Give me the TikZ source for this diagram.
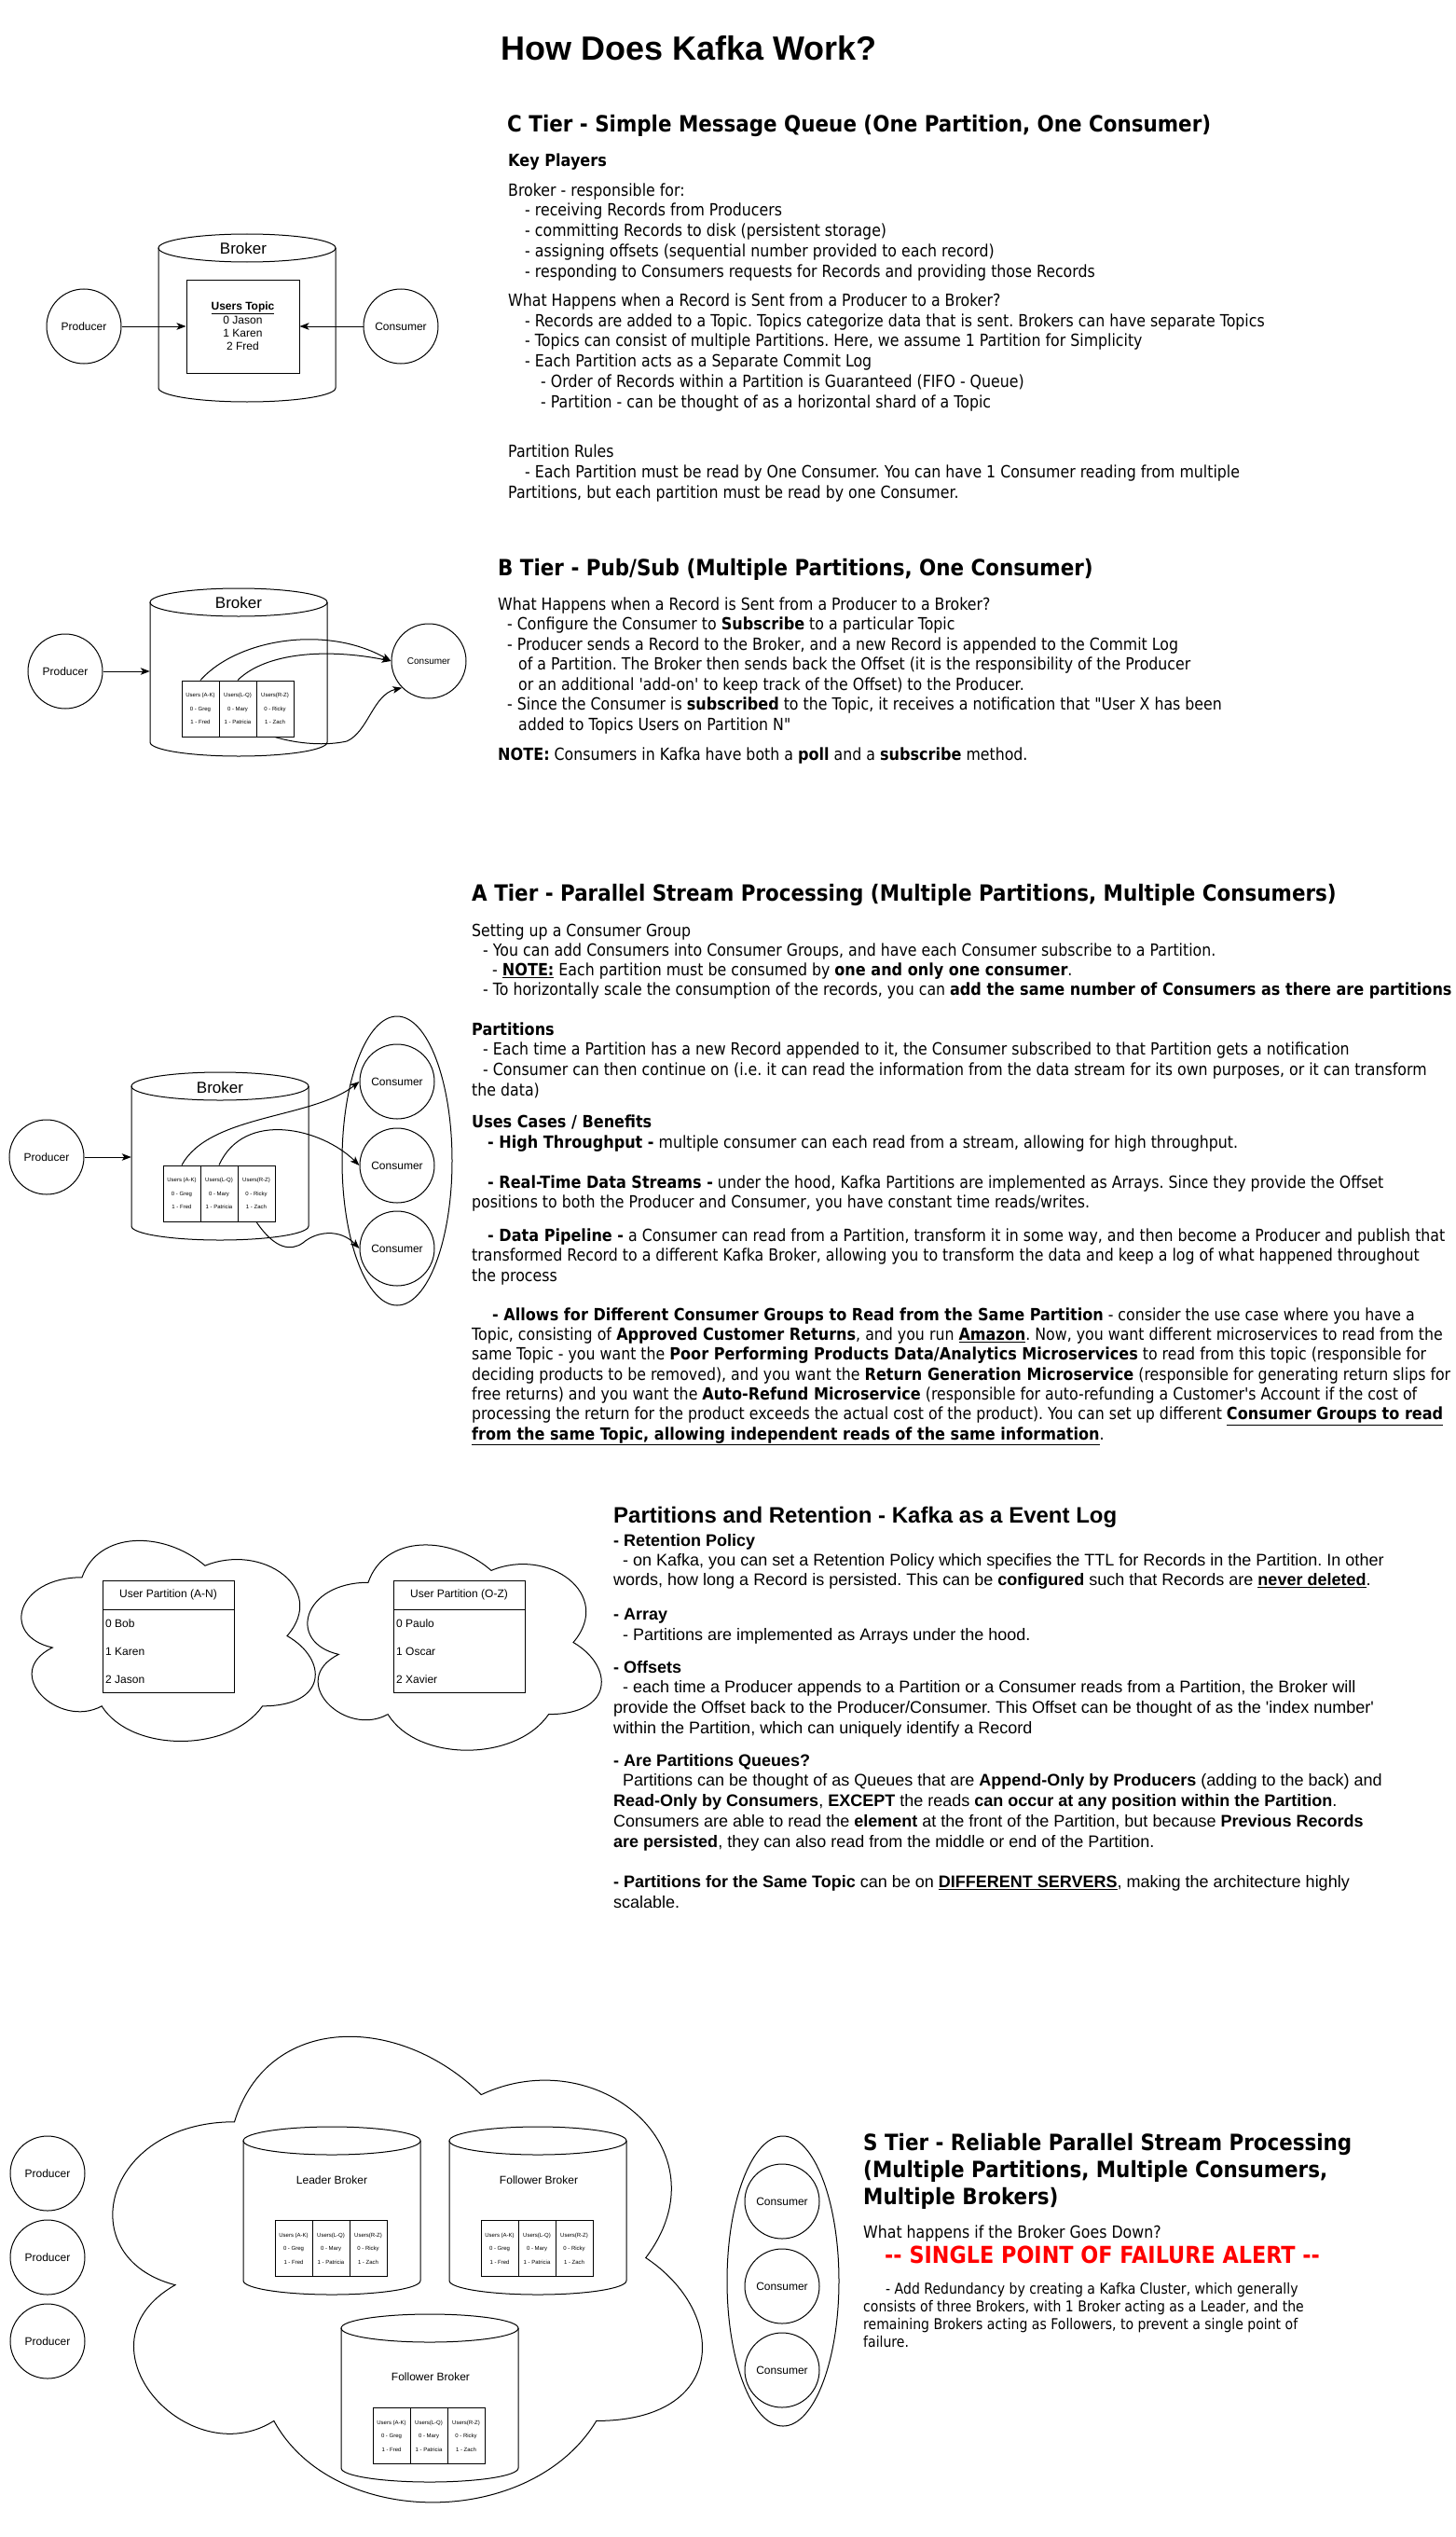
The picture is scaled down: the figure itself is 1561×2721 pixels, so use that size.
\documentclass[tikz,border=0pt]{standalone}
\usepackage{fontspec}
\setmainfont[Ligatures=TeXOff]{Liberation Sans}
\newfontfamily\tah[Ligatures=TeXOff,FakeStretch=0.877,BoldFeatures={FakeStretch=0.893}]{DejaVu Sans}
\usetikzlibrary{arrows.meta,shapes.geometric}
\frenchspacing

\newcommand\kcyl[3]{%
  \node[cylbody] (#1) at (#2,#3) {};
  \draw[ln] (#2,{#3-75}) ellipse [x radius=95pt, y radius=15pt];
  \draw[ln] ({#2-95},{#3-75}) -- ({#2-95},{#3+75}) arc[start angle=180,end angle=360,x radius=95pt,y radius=15pt] -- ({#2+95},{#3-75});
}
\newcommand\kparts[3]{%
  \node[pbox] (#1a) at ({#2+20},#3) {Users (A-K)\\0 - Greg\\1 - Fred};
  \node[pbox] (#1b) at ({#2+60},#3) {Users(L-Q)\\0 - Mary\\1 - Patricia};
  \node[pbox] (#1c) at ({#2+100},#3) {Users(R-Z)\\0 - Ricky\\1 - Zach};
}
\newcommand\kcloud[4]{%
 \draw[ln] ({#1+0.25*#3},{#2+0.25*#4}) .. controls ({#1+0.05*#3},{#2+0.25*#4}) and ({#1},{#2+0.5*#4}) .. ({#1+0.16*#3},{#2+0.55*#4})
 .. controls ({#1},{#2+0.66*#4}) and ({#1+0.18*#3},{#2+0.9*#4}) .. ({#1+0.31*#3},{#2+0.8*#4})
 .. controls ({#1+0.4*#3},{#2+#4}) and ({#1+0.7*#3},{#2+#4}) .. ({#1+0.8*#3},{#2+0.8*#4})
 .. controls ({#1+#3},{#2+0.8*#4}) and ({#1+#3},{#2+0.6*#4}) .. ({#1+0.875*#3},{#2+0.5*#4})
 .. controls ({#1+#3},{#2+0.3*#4}) and ({#1+0.8*#3},{#2+0.1*#4}) .. ({#1+0.625*#3},{#2+0.2*#4})
 .. controls ({#1+0.5*#3},{#2+0.05*#4}) and ({#1+0.3*#3},{#2+0.05*#4}) .. ({#1+0.25*#3},{#2+0.25*#4}) -- cycle;
}

\begin{document}
\frenchspacing
\begin{tikzpicture}[x=1pt,y=-1pt,
  ln/.style={line width=1pt, draw=black},
  arr/.style={ln, -{Stealth[length=10pt,width=7.5pt,inset=2.5pt]}},
  circ/.style={draw, line width=1pt, circle, minimum size=80pt, inner sep=0pt, font=\fontsize{12}{14}\selectfont},
  pbox/.style={draw, line width=1pt, minimum width=40pt, minimum height=60pt, inner sep=0pt, align=center, font=\fontsize{6}{14.5}\selectfont},
  cylbody/.style={minimum width=190pt, minimum height=180pt, inner sep=0pt},
  tb/.style={anchor=north west, inner sep=0pt, align=left},
  one/.style={anchor=base west, inner sep=0pt},
  lbl/.style={inner sep=0pt, font=\fontsize{12}{14}\selectfont},
  brk/.style={inner sep=0pt, font=\fontsize{17}{20}\selectfont},
  tbl/.style={draw, line width=1pt, minimum width=141pt, inner sep=0pt, font=\fontsize{12}{14}\selectfont},
  row/.style={anchor=west, inner sep=0pt, font=\fontsize{12}{14}\selectfont},
]
\fill[white] (0,0) rectangle (1561,2721);
\useasboundingbox (0,0) rectangle (1561,2721);

% ================= Title =================
\node[one, font=\bfseries\fontsize{36}{40}\selectfont] (title) at (537,65) {How Does Kafka Work?};

% ================= C tier =================
\node[one, font=\tah\bfseries\fontsize{24}{29}\selectfont] (ch) at (544,141.5) {C Tier - Simple Message Queue (One Partition, One Consumer)};
\node[one, font=\tah\bfseries\fontsize{18}{21.5}\selectfont] (ckp) at (545,179) {Key Players};
\node[tb, font=\tah\fontsize{18}{21.75}\selectfont] (c1) at (545,195) {\rule{0pt}{15pt}Broker - responsible for:\\
\hspace*{18pt}- receiving Records from Producers\\
\hspace*{18pt}- committing Records to disk (persistent storage)\\
\hspace*{18pt}- assigning offsets (sequential number provided to each record)\\
\hspace*{18pt}- responding to Consumers requests for Records and providing those Records};
\node[tb, font=\tah\fontsize{18}{21.8}\selectfont] (c2) at (545,313) {\rule{0pt}{15pt}What Happens when a Record is Sent from a Producer to a Broker?\\
\hspace*{18pt}- Records are added to a Topic. Topics categorize data that is sent. Brokers can have separate Topics\\
\hspace*{18pt}- Topics can consist of multiple Partitions. Here, we assume 1 Partition for Simplicity\\
\hspace*{18pt}- Each Partition acts as a Separate Commit Log\\
\hspace*{35pt}- Order of Records within a Partition is Guaranteed (FIFO - Queue)\\
\hspace*{35pt}- Partition - can be thought of as a horizontal shard of a Topic};
\node[tb, font=\tah\fontsize{18}{22}\selectfont] (c3) at (545,475) {\rule{0pt}{15pt}Partition Rules\\
\hspace*{18pt}- Each Partition must be read by One Consumer. You can have 1 Consumer reading from multiple\\
Partitions, but each partition must be read by one Consumer.};

\kcyl{cylC}{265}{341}
\node[brk] (brkC) at (261,266) {Broker};
\node[draw, line width=1pt, minimum width=121pt, minimum height=100pt, inner sep=0pt, align=center, font=\fontsize{12}{14.4}\selectfont] (topC) at (260.5,350) {\textbf{\underline{Users Topic}}\\0 Jason\\1 Karen\\2 Fred};
\node[circ] (prodC) at (90,350) {Producer};
\node[circ] (consC) at (430,350) {Consumer};
\draw[arr] (prodC) -- (topC);
\draw[arr] (consC) -- (topC);

% ================= B tier =================
\node[one, font=\tah\bfseries\fontsize{24}{29}\selectfont] (bh) at (534,617.5) {B Tier - Pub/Sub (Multiple Partitions, One Consumer)};
\node[tb, font=\tah\fontsize{18}{21.5}\selectfont] (b1) at (534,639) {\rule{0pt}{15pt}What Happens when a Record is Sent from a Producer to a Broker?\\
\hspace*{10pt}- Configure the Consumer to \textbf{Subscribe} to a particular Topic\\
\hspace*{10pt}- Producer sends a Record to the Broker, and a new Record is appended to the Commit Log\\
\hspace*{22pt}of a Partition. The Broker then sends back the Offset (it is the responsibility of the Producer\\
\hspace*{22pt}or an additional 'add-on' to keep track of the Offset) to the Producer.\\
\hspace*{10pt}- Since the Consumer is \textbf{subscribed} to the Topic, it receives a notification that "User X has been\\
\hspace*{22pt}added to Topics Users on Partition N"};
\node[one, font=\tah\fontsize{18}{21.5}\selectfont] (b2) at (534,815) {\textbf{NOTE:} Consumers in Kafka have both a \textbf{poll} and a \textbf{subscribe} method.};

\kcyl{cylB}{256}{721}
\node[brk] (brkB) at (256,646) {Broker};
\kparts{pB}{195}{760}
\node[circ] (prodB) at (70,720) {Producer};
\node[circ, font=\fontsize{10}{12}\selectfont] (consB) at (460,709) {Consumer};
\draw[arr] (prodB) -- (cylB.west |- prodB);
\draw[arr] (pBa.north) .. controls (255,685) and (350,670) .. (consB.west);
\draw[arr] (pBb.north) .. controls (285,700) and (350,695) .. (consB.west);
\draw[arr] (pBc.south) .. controls (320,798) and (350,800) .. (372,795) .. controls (395,785) and (400,745) .. (consB.south west);

% ================= A tier =================
\node[one, font=\tah\bfseries\fontsize{24}{29}\selectfont] (ah) at (506,966.5) {A Tier - Parallel Stream Processing (Multiple Partitions, Multiple Consumers)};
\node[tb, font=\tah\fontsize{18}{21}\selectfont] (a1) at (506,989) {\rule{0pt}{15pt}Setting up a Consumer Group\\
\hspace*{12pt}- You can add Consumers into Consumer Groups, and have each Consumer subscribe to a Partition.\\
\hspace*{22pt}- \textbf{\underline{NOTE:}} Each partition must be consumed by \textbf{one and only one consumer}.\\
\hspace*{12pt}- To horizontally scale the consumption of the records, you can \textbf{add the same number of Consumers as there are partitions}};
\node[tb, font=\tah\fontsize{18}{21.7}\selectfont] (a2) at (506,1095) {\rule{0pt}{15pt}\textbf{Partitions}\\
\hspace*{12pt}- Each time a Partition has a new Record appended to it, the Consumer subscribed to that Partition gets a notification\\
\hspace*{12pt}- Consumer can then continue on (i.e. it can read the information from the data stream for its own purposes, or it can transform\\
the data)};
\node[tb, font=\tah\fontsize{18}{22}\selectfont] (a3) at (506,1194) {\rule{0pt}{15pt}\textbf{Uses Cases / Benefits}\\
\hspace*{17pt}\textbf{- High Throughput -} multiple consumer can each read from a stream, allowing for high throughput.};
\node[tb, font=\tah\fontsize{18}{21}\selectfont] (a4) at (506,1259) {\rule{0pt}{15pt}\hspace*{17pt}\textbf{- Real-Time Data Streams -} under the hood, Kafka Partitions are implemented as Arrays. Since they provide the Offset\\
positions to both the Producer and Consumer, you have constant time reads/writes.};
\node[tb, font=\tah\fontsize{18}{21.5}\selectfont] (a5) at (506,1316) {\rule{0pt}{15pt}\hspace*{17pt}\textbf{- Data Pipeline -} a Consumer can read from a Partition, transform it in some way, and then become a Producer and publish that\\
transformed Record to a different Kafka Broker, allowing you to transform the data and keep a log of what happened throughout\\
the process};
\node[tb, font=\tah\fontsize{18}{21.33}\selectfont] (a6) at (506,1401) {\rule{0pt}{15pt}\hspace*{22pt}\textbf{- Allows for Different Consumer Groups to Read from the Same Partition} - consider the use case where you have a\\
Topic, consisting of \textbf{Approved Customer Returns}, and you run \textbf{\underline{Amazon}}. Now, you want different microservices to read from the\\
same Topic - you want the \textbf{Poor Performing Products Data/Analytics Microservices} to read from this topic (responsible for\\
deciding products to be removed), and you want the \textbf{Return Generation Microservice} (responsible for generating return slips for\\
free returns) and you want the \textbf{Auto-Refund Microservice} (responsible for auto-refunding a Customer's Account if the cost of\\
processing the return for the product exceeds the actual cost of the product). You can set up different \textbf{\underline{Consumer Groups to read}}\\
\textbf{\underline{from the same Topic, allowing independent reads of the same information}}.};

\kcyl{cylA}{236}{1240}
\node[brk] (brkA) at (236,1166) {Broker};
\kparts{pA}{175}{1280}
\node[circ] (prodA) at (50,1241) {Producer};
\node[draw, ellipse, line width=1pt, minimum width=118pt, minimum height=310pt, inner sep=0pt] (grpA) at (426,1245) {};
\node[circ] (cA1) at (426,1160) {Consumer};
\node[circ] (cA2) at (426,1250) {Consumer};
\node[circ] (cA3) at (426,1339) {Consumer};
\draw[arr] (prodA) -- (cylA.west |- prodA);
\draw[arr] (pAa.north) .. controls (225,1195) and (335,1200) .. (cA1.west);
\draw[arr] (pAb.north) .. controls (262,1190) and (345,1210) .. (cA2.west);
\draw[arr] (pAc.south) .. controls (295,1340) and (312,1342) .. (325,1333) .. controls (340,1320) and (365,1318) .. (cA3.west);

% ================= Partitions and Retention =================
\node[one, font=\bfseries\fontsize{24}{28}\selectfont] (ph) at (658,1633.5) {Partitions and Retention - Kafka as a Event Log};
\node[tb, font=\fontsize{18}{21}\selectfont] (p1) at (658,1643) {\rule{0pt}{15pt}\textbf{- Retention Policy}\\
\hspace*{10pt}- on Kafka, you can set a Retention Policy which specifies the TTL for Records in the Partition. In other\\
words, how long a Record is persisted. This can be \textbf{configured} such that Records are \textbf{\underline{never deleted}}.};
\node[tb, font=\fontsize{18}{22}\selectfont] (p2) at (658,1722) {\rule{0pt}{15pt}\textbf{- Array}\\
\hspace*{10pt}- Partitions are implemented as Arrays under the hood.};
\node[tb, font=\fontsize{18}{21.7}\selectfont] (p3) at (658,1779) {\rule{0pt}{15pt}\textbf{- Offsets}\\
\hspace*{10pt}- each time a Producer appends to a Partition or a Consumer reads from a Partition, the Broker will\\
provide the Offset back to the Producer/Consumer. This Offset can be thought of as the 'index number'\\
within the Partition, which can uniquely identify a Record};
\node[tb, font=\fontsize{18}{21.75}\selectfont] (p4) at (658,1879) {\rule{0pt}{15pt}\textbf{- Are Partitions Queues?}\\
\hspace*{10pt}Partitions can be thought of as Queues that are \textbf{Append-Only by Producers} (adding to the back) and\\
\textbf{Read-Only by Consumers}, \textbf{EXCEPT} the reads \textbf{can occur at any position within the Partition}.\\
Consumers are able to read the \textbf{element} at the front of the Partition, but because \textbf{Previous Records}\\
\textbf{are persisted}, they can also read from the middle or end of the Partition.};
\node[tb, font=\fontsize{18}{22}\selectfont] (p5) at (658,2009) {\rule{0pt}{15pt}\textbf{- Partitions for the Same Topic} can be on \textbf{\underline{DIFFERENT SERVERS}}, making the architecture highly\\
scalable.};

\kcloud{0}{1629}{352}{251}
\kcloud{307}{1633}{352}{257}
\node[tbl, minimum height=31pt] (t1h) at (180.5,1710.5) {User Partition (A-N)};
\node[tbl, minimum height=89pt] (t1b) at (180.5,1770.5) {};
\node[row] (t1r0) at (113,1741) {0 Bob};
\node[row] (t1r1) at (113,1771) {1 Karen};
\node[row] (t1r2) at (113,1801) {2 Jason};
\node[tbl, minimum height=31pt] (t2h) at (492.5,1710.5) {User Partition (O-Z)};
\node[tbl, minimum height=89pt] (t2b) at (492.5,1770.5) {};
\node[row] (t2r0) at (425,1741) {0 Paulo};
\node[row] (t2r1) at (425,1771) {1 Oscar};
\node[row] (t2r2) at (425,1801) {2 Xavier};

% ================= S tier =================
\node[tb, font=\tah\bfseries\fontsize{24}{29}\selectfont] (sh) at (926,2286.5) {\rule{0pt}{20pt}S Tier - Reliable Parallel Stream Processing\\
(Multiple Partitions, Multiple Consumers,\\
Multiple Brokers)};
\node[one, font=\tah\fontsize{18}{21.5}\selectfont] (sq) at (926,2400) {What happens if the Broker Goes Down?};
\node[one, text=red, font=\tah\bfseries\fontsize{25}{29}\selectfont] (salert) at (949,2427.5) {-- SINGLE POINT OF FAILURE ALERT --};
\node[tb, font=\tah\fontsize{16}{19}\selectfont] (sr) at (926,2446.5) {\rule{0pt}{14pt}\hspace*{24pt}- Add Redundancy by creating a Kafka Cluster, which generally\\
consists of three Brokers, with 1 Broker acting as a Leader, and the\\
remaining Brokers acting as Followers, to prevent a single point of\\
failure.};

\kcloud{75}{2130}{706}{583}
\kcyl{cylL}{356}{2371}
\node[lbl] (lblL) at (356,2338) {Leader Broker};
\kparts{pL}{295}{2411.5}
\kcyl{cylF}{577}{2371}
\node[lbl] (lblF) at (578,2338) {Follower Broker};
\kparts{pF}{516}{2411.5}
\kcyl{cylG}{461}{2572}
\node[lbl] (lblG) at (462,2549) {Follower Broker};
\kparts{pG}{400}{2612.5}
\node[circ] (prS1) at (51,2331) {Producer};
\node[circ] (prS2) at (51,2421) {Producer};
\node[circ] (prS3) at (51,2511) {Producer};
\node[draw, ellipse, line width=1pt, minimum width=120pt, minimum height=311pt, inner sep=0pt] (grpS) at (840,2446.5) {};
\node[circ] (cS1) at (839,2361) {Consumer};
\node[circ] (cS2) at (839,2452) {Consumer};
\node[circ] (cS3) at (839,2542) {Consumer};
\end{tikzpicture}
\end{document}
